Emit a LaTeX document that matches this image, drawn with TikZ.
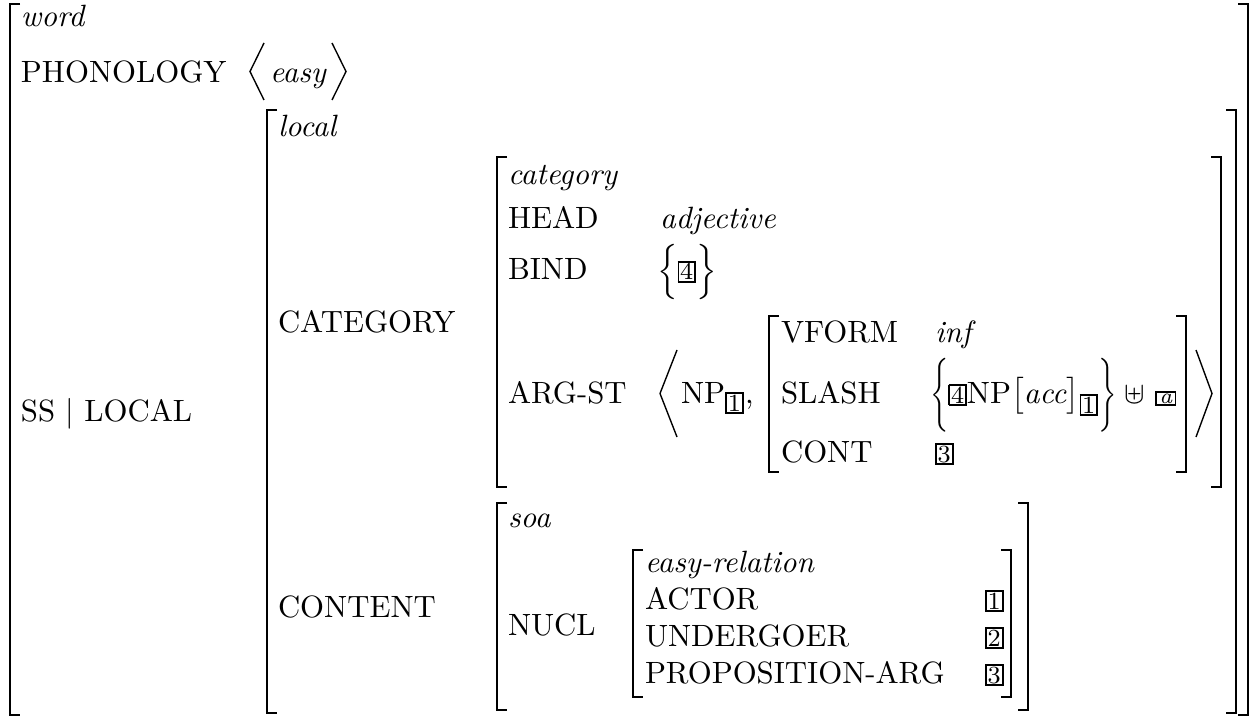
\documentclass[tikz,border=0pt]{standalone}
\usepackage{amsmath,amssymb,graphicx}
% boxed structure-sharing tags
\newcommand\tg[1]{{\setlength\fboxsep{0.2pt}\setlength\fboxrule{0.6pt}\fbox{\makebox[4.4pt]{\footnotesize\vphantom{0}#1}}}}
\newcommand\tgi[1]{{\setlength\fboxsep{0.3pt}\setlength\fboxrule{0.6pt}\fbox{\makebox[5pt]{\scriptsize\itshape #1}}}}
% tall, slightly narrowed braces
\newcommand\tallbr[1]{\scalebox{0.8}[1]{$\bigg#1$}}
\begin{document}
\begin{tikzpicture}[x=0.3247pt,y=-0.3247pt,
  txt/.style={anchor=base west,inner sep=0pt,outer sep=0pt},
  typ/.style={txt,font=\itshape},
  brk/.style={line width=0.65pt,line cap=butt,line join=miter},
  ang/.style={line width=0.45pt}]
\useasboundingbox (0,0) rectangle (1252,719);
% bracket helpers: x, top, bottom
\newcommand\lbrk[3]{\draw[brk] (#1+10,#2) -- (#1,#2) -- (#1,#3) -- (#1+10,#3);}
\newcommand\rbrk[3]{\draw[brk] (#1-10,#2) -- (#1,#2) -- (#1,#3) -- (#1-10,#3);}

% outer word structure
\lbrk{10}{4}{715}\rbrk{1248}{4}{715}
\node[typ] (word) at (21,27) {word};
\node[txt] (phon) at (21,83) {PHONOLOGY};
\draw[ang] (264,43) -- (250,71.5) -- (264,100);
\node[typ] (easy) at (270,83) {easy};
\draw[ang] (332,43) -- (346,71.5) -- (332,100);
\node[txt] (sslocal) at (21,421) {SS $|$ LOCAL};

% local
\lbrk{267}{110}{713}\rbrk{1236}{110}{713}
\node[typ] (local) at (278,137) {local};
\node[txt] (cat) at (278,332) {CATEGORY};
\node[txt] (cont) at (278,617) {CONTENT};

% category
\lbrk{497}{157}{487}\rbrk{1221}{157}{487}
\node[typ] (category) at (508,185) {category};
\node[txt] (head) at (508,228) {HEAD};
\node[typ] (adj) at (660,228) {adjective};
\node[txt] (bind) at (508,280) {BIND};
\node[txt] (bindval) at (657,280) {$\Bigl\{\mbox{\tg{4}}\Bigr\}$};
\node[txt] (argst) at (508,403) {ARG-ST};
\draw[ang] (677,350) -- (660,393.5) -- (677,437);
\node[txt] (np) at (681,403) {NP$_{\mbox{\tg{1}}}$,};

% infinitival complement
\lbrk{769}{316}{472}\rbrk{1186}{316}{472}
\node[txt] (vform) at (781,342) {VFORM};
\node[typ] (inf) at (935,342) {inf};
\node[txt] (slash) at (781,403) {SLASH};
\node[txt] (slashval) at (930,403) {\tallbr\{\tg{4}NP$\bigl[$\textit{acc}$\bigr]$\raisebox{-3.3pt}{\tg{1}}\tallbr\}\hspace{2.5pt}$\uplus$\hspace{3.5pt}\tgi{a}};
\node[txt] (contf) at (781,462) {CONT};
\node[txt] (contval) at (935,462) {\tg{3}};
\draw[ang] (1196,350) -- (1212,393.5) -- (1196,437);

% content
\lbrk{497}{503}{710}\rbrk{1028}{503}{710}
\node[typ] (soa) at (508,527) {soa};
\node[txt] (nucl) at (508,635) {NUCL};

% easy-relation
\lbrk{633}{550}{697}\rbrk{1011}{550}{697}
\node[typ] (rel) at (645,572) {easy-relation};
\node[txt] (actor) at (645,609) {ACTOR};
\node[txt] (actval) at (985,609) {\tg{1}};
\node[txt] (und) at (645,646) {UNDERGOER};
\node[txt] (undval) at (985,646) {\tg{2}};
\node[txt] (prop) at (645,683) {PROPOSITION-ARG};
\node[txt] (propval) at (985,683) {\tg{3}};
\end{tikzpicture}
\end{document}
